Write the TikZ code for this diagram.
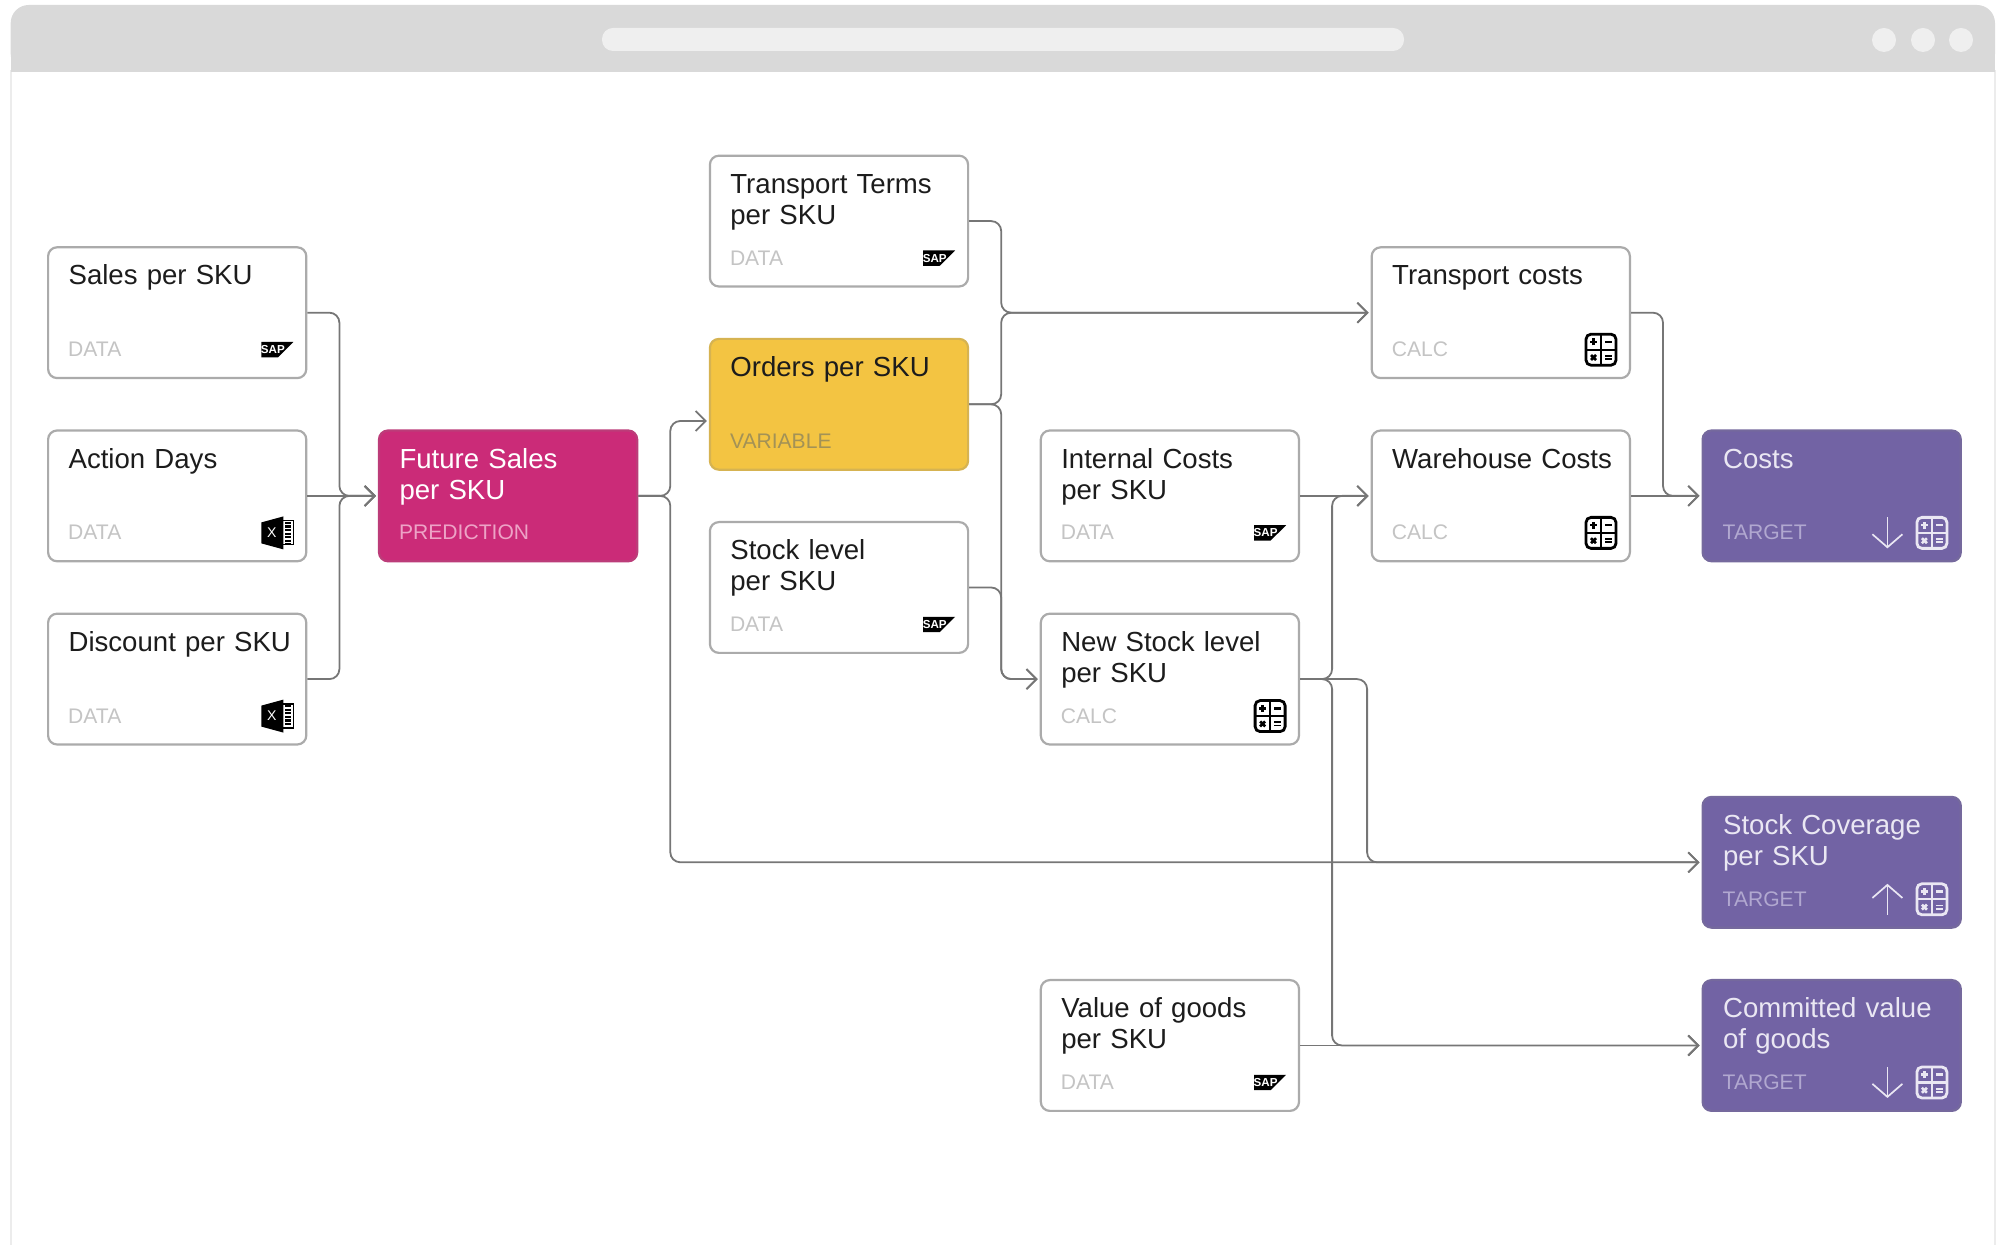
\documentclass[tikz,border=0pt]{standalone}
\usepackage{fontspec}
\setmainfont{Liberation Sans}
\usetikzlibrary{arrows.meta,positioning}

\definecolor{framegray}{HTML}{ECECEC}
\definecolor{bargray}{HTML}{D9D9D9}
\definecolor{barlight}{HTML}{EFEFEF}
\definecolor{cardline}{HTML}{ABABAB}
\definecolor{linkgray}{HTML}{767676}
\definecolor{inkblack}{HTML}{1C1C1C}
\definecolor{tagwhite}{HTML}{C4C4C4}
\definecolor{salespink}{HTML}{CB2B78}
\definecolor{tagpink}{HTML}{EDA3C6}
\definecolor{orderyellow}{HTML}{F3C442}
\definecolor{tagyellow}{HTML}{A39256}
\definecolor{targetpurple}{HTML}{7263A4}
\definecolor{tagpurple}{HTML}{B1A8D0}
\definecolor{iconlight}{HTML}{EAE7F3}

\tikzset{
    pics/sapicon/.style={code={
        \fill[black] (-1.6mm,.77mm) -- (1.6mm,.77mm) -- (.05mm,-.77mm) -- (-1.6mm,-.77mm) -- cycle;
        \node[text=white, inner sep=0, font=\fontsize{3.3}{4}\selectfont\bfseries] (-mark) at (-.45mm,0) {SAP};
    }},
    pics/excelicon/.style={code={
        \fill[black] (-1.6mm,1.05mm) -- (.6mm,1.65mm) -- (.6mm,-1.65mm) -- (-1.6mm,-1.05mm) -- cycle;
        \draw[black, line width=.12mm] (.6mm,1.2mm) -- (1.6mm,1.2mm) -- (1.6mm,-1.2mm) -- (.6mm,-1.2mm);
        \draw[black, line width=.6mm, dash pattern=on .22mm off .14mm] (1.1mm,1.1mm) -- (1.1mm,-1.1mm);
        \node[text=white, inner sep=0, font=\fontsize{4}{4}\selectfont] (-mark) at (-.55mm,0) {X};
    }},
    pics/calcicon/.style={code={
        \draw[#1, line width=.28mm, rounded corners=.5mm] (-1.5mm,-1.55mm) rectangle (1.5mm,1.55mm);
        \draw[#1, line width=.22mm] (0,-1.55mm) -- (0,1.55mm) (-1.5mm,0) -- (1.5mm,0);
        \draw[#1, line width=.26mm] (-1.1mm,.78mm) -- (-.4mm,.78mm) (-.75mm,.43mm) -- (-.75mm,1.13mm);
        \draw[#1, line width=.26mm] (.4mm,.78mm) -- (1.1mm,.78mm);
        \draw[#1, line width=.26mm] (-1mm,-1.03mm) -- (-.5mm,-.53mm) (-1mm,-.53mm) -- (-.5mm,-1.03mm);
        \draw[#1, line width=.18mm] (.4mm,-.62mm) -- (1.1mm,-.62mm) (.4mm,-.95mm) -- (1.1mm,-.95mm);
    }},
    pics/trendicon/.style={code={
        \draw[iconlight, line width=.17mm, -{Straight Barb[length=1.3mm,width=3mm]}] (0,1.55mm) -- (0,-1.55mm);
    }}
}

\begin{document}
\begin{tikzpicture}[
    card/.style={rectangle, draw=cardline, fill=white, line width=.22mm, rounded corners=.9mm, text=inkblack,
        text width=21.72mm, align=left, inner xsep=2.05mm, inner ysep=1.77mm, text height=2mm, text depth=7.54mm,
        font=\fontsize{7.85}{8.8}\selectfont},
    predictioncard/.style={card, fill=salespink, text=white, draw=salespink!80!gray},
    variablecard/.style={card, fill=orderyellow, draw=orderyellow!75!gray},
    targetcard/.style={card, fill=targetpurple, text=iconlight, draw=targetpurple!80!gray},
    tagtext/.style={anchor=base west, inner sep=0, xshift=2.05mm, yshift=2.25mm, text=tagwhite, font=\fontsize{6}{7}\selectfont},
    linkarrow/.style={draw=linkgray, line width=.18mm, rounded corners=1mm, -{Straight Barb[length=1mm,width=2mm]}, shorten >=.2mm},
    iconspot/.style={shift={(-3mm,2.95mm)}},
    trendspot/.style={shift={(-7.45mm,2.95mm)}}
]
\useasboundingbox (0,0) rectangle (20.14,-12.45);

% Window
\draw[framegray, line width=.2mm] (.107,-12.45) -- (.107,-.7) (19.95,-.7) -- (19.95,-12.45);
\fill[bargray, rounded corners=1.8mm] (.107,-.72) rectangle (19.95,-.05);
\fill[bargray] (.107,-.72) rectangle (19.95,-.4);
\fill[barlight, rounded corners=1.1mm] (6.02,-.28) rectangle (14.04,-.51);
\fill[barlight] (18.84,-.4) circle (.12);
\fill[barlight] (19.23,-.4) circle (.12);
\fill[barlight] (19.61,-.4) circle (.12);

% Inputs
\node[card] (sales) at (1.772,-3.127) {Sales per SKU};
\node[card, below=5.02mm of sales] (action) {Action Days};
\node[card, below=5.02mm of action] (discount) {Discount~per~SKU};

% Prediction
\node[predictioncard, right=7.05mm of action] (future) {Future Sales\\per SKU};

% Second column
\node[variablecard, right=7.05mm of future, yshift=9.16mm] (orders) {Orders per SKU};
\node[card, above=5.02mm of orders] (terms) {Transport Terms\\per SKU};
\node[card, below=5.02mm of orders] (stock) {Stock level\\per SKU};

% Third column
\node[card, right=7.05mm of orders, yshift=-9.16mm] (internal) {Internal Costs\\per SKU};
\node[card, below=5.02mm of internal] (newstock) {New Stock level\\per SKU};
\node[card, below=23.34mm of newstock] (value) {Value of goods\\per SKU};

% Calculations
\node[card, right=7.05mm of internal] (warehouse) {Warehouse~Costs};
\node[card, above=5.02mm of warehouse] (transport) {Transport costs};

% Targets
\node[targetcard, right=7.05mm of warehouse] (costs) {Costs};
\node[targetcard, below=23.34mm of costs] (coverage) {Stock Coverage\\per SKU};
\node[targetcard, below=5.02mm of coverage] (committed) {Committed value\\of goods};

% Tags
\node[tagtext] (sales-tag) at (sales.south west) {DATA};
\node[tagtext] (action-tag) at (action.south west) {DATA};
\node[tagtext] (discount-tag) at (discount.south west) {DATA};
\node[tagtext, text=tagpink] (future-tag) at (future.south west) {PREDICTION};
\node[tagtext, text=tagyellow] (orders-tag) at (orders.south west) {VARIABLE};
\node[tagtext] (terms-tag) at (terms.south west) {DATA};
\node[tagtext] (stock-tag) at (stock.south west) {DATA};
\node[tagtext] (internal-tag) at (internal.south west) {DATA};
\node[tagtext] (newstock-tag) at (newstock.south west) {CALC};
\node[tagtext] (value-tag) at (value.south west) {DATA};
\node[tagtext] (warehouse-tag) at (warehouse.south west) {CALC};
\node[tagtext] (transport-tag) at (transport.south west) {CALC};
\node[tagtext, text=tagpurple] (costs-tag) at (costs.south west) {TARGET};
\node[tagtext, text=tagpurple] (coverage-tag) at (coverage.south west) {TARGET};
\node[tagtext, text=tagpurple] (committed-tag) at (committed.south west) {TARGET};

% Icons
\pic (sales-icon) at ([iconspot]sales.south east) {sapicon};
\pic (action-icon) at ([iconspot]action.south east) {excelicon};
\pic (discount-icon) at ([iconspot]discount.south east) {excelicon};
\pic (terms-icon) at ([iconspot]terms.south east) {sapicon};
\pic (stock-icon) at ([iconspot]stock.south east) {sapicon};
\pic (internal-icon) at ([iconspot]internal.south east) {sapicon};
\pic (value-icon) at ([iconspot]value.south east) {sapicon};
\pic (newstock-icon) at ([iconspot]newstock.south east) {calcicon=black};
\pic (warehouse-icon) at ([iconspot]warehouse.south east) {calcicon=black};
\pic (transport-icon) at ([iconspot]transport.south east) {calcicon=black};
\pic (costs-icon) at ([iconspot]costs.south east) {calcicon=iconlight};
\pic (coverage-icon) at ([iconspot]coverage.south east) {calcicon=iconlight};
\pic (committed-icon) at ([iconspot]committed.south east) {calcicon=iconlight};
\pic (costs-trend) at ([trendspot]costs.south east) {trendicon};
\pic[yscale=-1] (coverage-trend) at ([trendspot]coverage.south east) {trendicon};
\pic (committed-trend) at ([trendspot]committed.south east) {trendicon};

% Connectors
\coordinate (orders-in) at ([yshift=-1.67mm]orders.west);
\draw[linkarrow] (sales.east) -- ++(3.2mm,0) |- (future.west);
\draw[linkarrow] (action.east) -- (future.west);
\draw[linkarrow] (discount.east) -- ++(3.2mm,0) |- (future.west);
\draw[linkarrow] (future.east) -- ++(3.2mm,0) |- (orders-in);
\draw[linkarrow] (future.east) -- ++(3.2mm,0) |- (coverage.west);
\draw[linkarrow] (terms.east) -- ++(3.2mm,0) |- (transport.west);
\draw[linkarrow] (orders.east) -- ++(3.2mm,0) |- (transport.west);
\draw[linkarrow] (orders.east) -- ++(3.2mm,0) |- (newstock.west);
\draw[linkarrow] (stock.east) -- ++(3.2mm,0) |- (newstock.west);
\draw[linkarrow] (internal.east) -- (warehouse.west);
\draw[linkarrow] (newstock.east) -- ++(3.2mm,0) |- (warehouse.west);
\draw[linkarrow] (newstock.east) -- ++(3.2mm,0) |- (committed.west);
\draw[linkarrow] (newstock.east) -- ++(6.7mm,0) |- (coverage.west);
\draw[linkarrow] (value.east) -- (committed.west);
\draw[linkarrow] (transport.east) -- ++(3.2mm,0) |- (costs.west);
\draw[linkarrow] (warehouse.east) -- (costs.west);

\end{tikzpicture}
\end{document}
